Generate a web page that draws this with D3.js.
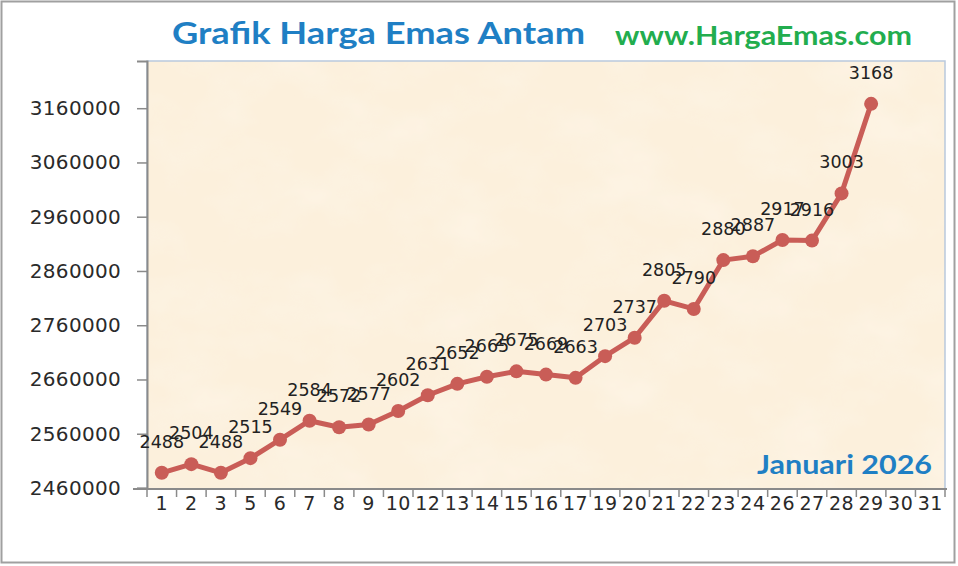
<!DOCTYPE html>
<html><head><meta charset="utf-8">
<script src="https://cdn.jsdelivr.net/npm/d3@7/dist/d3.min.js"></script>
<style>html,body{margin:0;padding:0;background:#fff;}svg{display:block;}</style>
</head><body>
<svg id="c" width="958" height="566"></svg>
<script>
const days = ["1","2","3","5","6","7","8","9","10","12","13","14","15","16","17","19","20","21","22","23","24","26","27","28","29","30","31"];
const prices = [2488000,2504000,2488000,2515000,2549000,2584000,2572000,2577000,2602000,2631000,2652000,2665000,2675000,2669000,2663000,2703000,2737000,2805000,2790000,2880000,2887000,2917000,2916000,3003000,3168000,null,null];
const yTicks = [2460000,2560000,2660000,2760000,2860000,2960000,3060000,3160000];
const titleText = "Grafik Harga Emas Antam";
const siteText = "www.HargaEmas.com";
const periodText = "Januari 2026";

const svg = d3.select("#c");
const L = 147, R = 945, T = 61, B = 489;

const defs = svg.append("defs");
const f = defs.append("filter").attr("id","parch").attr("x",0).attr("y",0).attr("width","100%").attr("height","100%");
f.append("feTurbulence").attr("type","fractalNoise").attr("baseFrequency","0.012 0.018").attr("numOctaves",4).attr("seed",7).attr("result","n");
f.append("feColorMatrix").attr("in","n").attr("type","matrix")
 .attr("values","0 0 0 0 1  0 0 0 0 0.98  0 0 0 0 0.95  0.6 0 0 0 -0.25").attr("result","lt");
f.append("feComposite").attr("in","lt").attr("in2","SourceGraphic").attr("operator","in");

// outer border
svg.append("rect").attr("x",1.5).attr("y",1.5).attr("width",953).attr("height",561)
  .attr("fill","#fff").attr("stroke","#a0a0a0").attr("stroke-width",2);

const x = d3.scaleBand().domain(days).range([L,R]).paddingInner(0).paddingOuter(0);
const y = d3.scaleLinear().domain([2460000,3247000]).range([B-1,T]);

// plot background
svg.append("rect").attr("x",L).attr("y",T).attr("width",R-L).attr("height",B-T).attr("fill","#fcf0dc");
svg.append("rect").attr("x",L).attr("y",T).attr("width",R-L).attr("height",B-T).attr("fill","#fcf0dc").attr("filter","url(#parch)");
svg.append("rect").attr("x",L).attr("y",T).attr("width",R-L).attr("height",B-T)
  .attr("fill","none").attr("stroke","#b9c9dd").attr("stroke-width",1.5);

// y axis
const ya = svg.append("g").attr("transform",`translate(${L},0)`)
  .call(d3.axisLeft(y).tickValues(yTicks).tickSize(10).tickPadding(16).tickFormat(d3.format("d")));
ya.select(".domain").attr("stroke","#8a8a8a").attr("stroke-width",2);
ya.selectAll(".tick line").attr("stroke","#8a8a8a").attr("stroke-width",1.5);
ya.selectAll("text").attr("font-family","DejaVu Sans").attr("font-size","20px").attr("fill","#2a2a2a").attr("letter-spacing","0.3px");

// x axis
const xa = svg.append("g").attr("transform",`translate(0,${B})`)
  .call(d3.axisBottom(x).tickSize(0).tickPadding(8));
xa.select(".domain").remove();
xa.append("line").attr("x1",L-14).attr("x2",R+2).attr("y1",0).attr("y2",0).attr("stroke","#8a8a8a").attr("stroke-width",2);
const bounds = days.map(d=>x(d)).concat([R]);
xa.selectAll(".btick").data(bounds).enter().append("line").attr("class","btick")
  .attr("x1",d=>d).attr("x2",d=>d).attr("y1",0).attr("y2",8).attr("stroke","#8a8a8a").attr("stroke-width",1.5);
xa.selectAll(".tick text").attr("font-family","DejaVu Sans").attr("font-size","19px").attr("fill","#2a2a2a").attr("dy","0.71em").attr("letter-spacing","0.5px");

// line
const pts = days.map((d,i)=>({d, v:prices[i]})).filter(p=>p.v!==null);
const cx = d=>x(d)+x.bandwidth()/2;
const line = d3.line().x(p=>cx(p.d)).y(p=>y(p.v));
svg.append("path").datum(pts).attr("d",line).attr("fill","none").attr("stroke","#c95d57").attr("stroke-width",5).attr("stroke-linejoin","round");
svg.selectAll(".pt").data(pts).enter().append("circle").attr("class","pt")
  .attr("cx",p=>cx(p.d)).attr("cy",p=>y(p.v)).attr("r",7).attr("fill","#c95d57");
svg.selectAll(".lbl").data(pts).enter().append("text").attr("class","lbl")
  .attr("x",p=>cx(p.d)).attr("y",p=>y(p.v)-25).attr("text-anchor","middle")
  .attr("font-family","DejaVu Sans").attr("font-size","17.5px").attr("fill","#222")
  .text(p=>Math.round(p.v/1000));

// titles
svg.append("text").attr("x",172).attr("y",44).attr("font-family","Lato").attr("font-weight","bold")
  .attr("font-size","31px").attr("fill","#1f7fc4").attr("textLength",413).attr("lengthAdjust","spacingAndGlyphs").text(titleText);
svg.append("text").attr("x",615).attr("y",45).attr("font-family","Lato").attr("font-weight","bold")
  .attr("font-size","26px").attr("fill","#22ad4e").attr("textLength",297).attr("lengthAdjust","spacingAndGlyphs").text(siteText);
svg.append("text").attr("x",757).attr("y",474).attr("font-family","Lato").attr("font-weight","bold")
  .attr("font-size","26px").attr("fill","#1f7fc4").attr("textLength",175).attr("lengthAdjust","spacingAndGlyphs").text(periodText);
</script>
</body></html>
